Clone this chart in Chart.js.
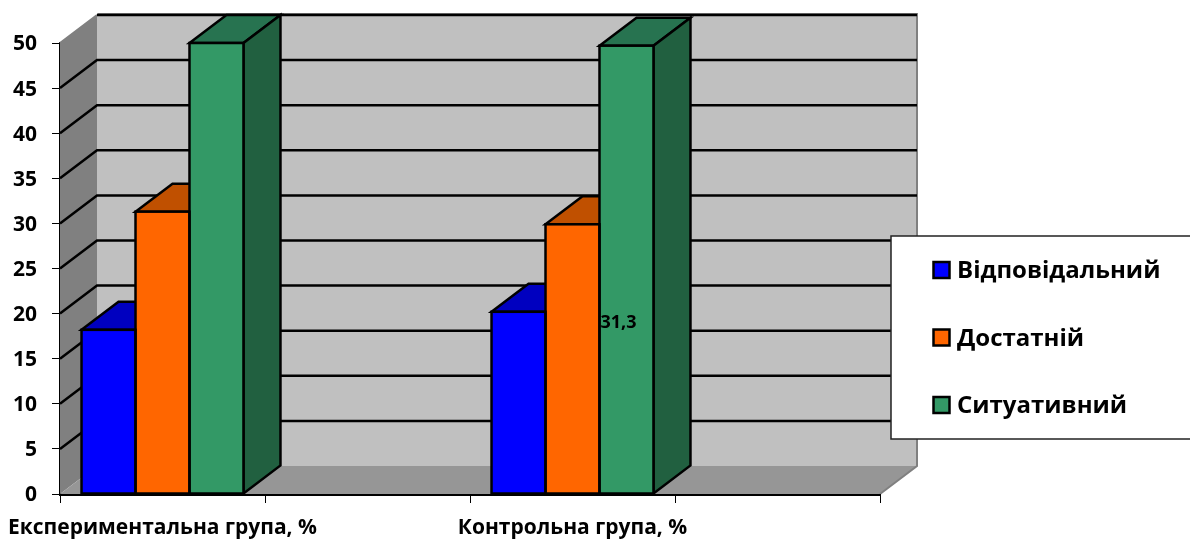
<!DOCTYPE html>
<html>
<head>
<meta charset="utf-8">
<title>Chart</title>
<script src="https://cdn.jsdelivr.net/npm/chart.js@4"></script>
<style>
html, body { margin: 0; padding: 0; background: #fff; }
canvas { display: block; }
</style>
</head>
<body>
<canvas id="chart" width="1190" height="539"></canvas>
<script>
// blank categories keep the empty half of the 3D floor, like the original
const categories = ['Експериментальна група, %', '', 'Контрольна група, %', ''];
const seriesNames = ['Відповідальний', 'Достатній', 'Ситуативний'];
const responsible = [18.2, null, 20.2, null];
const sufficient = [31.3, null, 29.9, null];
const situational = [50, null, 49.7, null];
const strayLabel = '31,3';

const frontColors = ['#0000ff', '#ff6600', '#339966'];
const topColors = ['#0000c0', '#c05000', '#277350'];
const sideColors = ['#000099', '#994000', '#216040'];

const FONT = '"Open Sans", sans-serif';
const DX = 37, DY = 28;
const LINE = 2.5;

function poly(ctx, pts, fill, stroke, lw) {
    ctx.beginPath();
    pts.forEach((p, i) => i ? ctx.lineTo(p[0], p[1]) : ctx.moveTo(p[0], p[1]));
    ctx.closePath();
    if (fill) { ctx.fillStyle = fill; ctx.fill(); }
    if (stroke) { ctx.strokeStyle = stroke; ctx.lineWidth = lw; ctx.stroke(); }
}

const box3d = {
    id: 'box3d',
    beforeDatasetsDraw(chart) {
        const ctx = chart.ctx, y = chart.scales.y, a = chart.chartArea;
        const top = y.getPixelForValue(50), bot = y.getPixelForValue(0);
        ctx.save();
        // walls and floor
        poly(ctx, [[a.left, top], [a.left + DX, top - DY], [a.left + DX, bot - DY], [a.left, bot]], '#808080');
        poly(ctx, [[a.left + DX, top - DY], [a.right + DX, top - DY], [a.right + DX, bot - DY], [a.left + DX, bot - DY]], '#c0c0c0');
        poly(ctx, [[a.left, bot], [a.right, bot], [a.right + DX, bot - DY], [a.left + DX, bot - DY]], '#969696');
        ctx.strokeStyle = '#808080';
        ctx.lineWidth = 2;
        ctx.beginPath();
        ctx.moveTo(a.left + DX + 0.5, top - DY - 1);
        ctx.lineTo(a.right + DX, top - DY - 1);
        ctx.lineTo(a.right + DX, bot - DY);
        ctx.lineTo(a.right, bot);
        ctx.moveTo(a.left, top);
        ctx.lineTo(a.left + DX, top - DY);
        ctx.stroke();
        // gridlines run along the left wall and the back wall
        ctx.strokeStyle = '#000';
        ctx.lineWidth = LINE;
        y.ticks.forEach(t => {
            if (t.value === 0) return;
            const py = y.getPixelForValue(t.value);
            ctx.beginPath();
            if (t.value !== 50) {
                ctx.moveTo(a.left, py);
            } else {
                ctx.moveTo(a.left + DX, py - DY);
            }
            ctx.lineTo(a.left + DX, py - DY);
            ctx.lineTo(a.right + DX, py - DY);
            ctx.stroke();
        });
        // top and side faces, the library draws the front ones over them
        chart.data.datasets.forEach((ds, i) => {
            chart.getDatasetMeta(i).data.forEach((bar, j) => {
                if (ds.data[j] === null) return;
                const l = bar.x - bar.width / 2, r = bar.x + bar.width / 2;
                poly(ctx, [[l, bar.y], [r, bar.y], [r + DX, bar.y - DY], [l + DX, bar.y - DY]], topColors[i], '#000', LINE);
                poly(ctx, [[r, bar.y], [r + DX, bar.y - DY], [r + DX, bar.base - DY], [r, bar.base]], sideColors[i], '#000', LINE);
            });
        });
        ctx.restore();
    },
    afterDatasetsDraw(chart) {
        // outlines of the front faces, neighbours share one line
        const ctx = chart.ctx;
        ctx.save();
        ctx.strokeStyle = '#000';
        ctx.lineWidth = LINE;
        chart.data.datasets.forEach((ds, i) => {
            chart.getDatasetMeta(i).data.forEach((bar, j) => {
                if (ds.data[j] === null) return;
                ctx.strokeRect(bar.x - bar.width / 2, bar.y, bar.width, bar.base - bar.y);
            });
        });
        ctx.restore();
    },
    afterDraw(chart) {
        const ctx = chart.ctx, x = chart.scales.x, y = chart.scales.y;
        ctx.save();
        // x ticks: the scale's own are transparent, its long tickLength only pushes the labels down
        ctx.strokeStyle = '#000';
        ctx.lineWidth = 1;
        categories.concat('').forEach((c, i) => {
            const px = Math.round(x.getPixelForValue(i - 0.5)) + 0.5;
            ctx.beginPath();
            ctx.moveTo(px, y.bottom);
            ctx.lineTo(px, y.bottom + 9);
            ctx.stroke();
        });
        // stray data label sitting on the green bar of the second group
        const bar = chart.getDatasetMeta(2).data[2];
        ctx.fillStyle = '#000';
        ctx.font = 'bold 18px ' + FONT;
        ctx.textAlign = 'left';
        ctx.textBaseline = 'middle';
        ctx.fillText(strayLabel, bar.x - bar.width / 2 + 1, y.getPixelForValue(19));
        // legend
        ctx.fillStyle = '#fff';
        ctx.strokeStyle = '#222';
        ctx.lineWidth = 1.5;
        ctx.fillRect(891, 236, 301, 203);
        ctx.strokeRect(891, 236, 301, 203);
        ctx.font = 'bold 24px ' + FONT;
        seriesNames.forEach((name, i) => {
            const cy = 270 + i * 67.5;
            ctx.fillStyle = frontColors[i];
            ctx.fillRect(933.5, cy - 8, 16, 16);
            ctx.strokeStyle = '#000';
            ctx.lineWidth = 2.5;
            ctx.strokeRect(933.5, cy - 8, 16, 16);
            ctx.fillStyle = '#000';
            ctx.fillText(name, 957, cy + 1.5);
        });
        ctx.restore();
    }
};

const series = [responsible, sufficient, situational];

new Chart(document.getElementById('chart'), {
    type: 'bar',
    data: {
        labels: categories,
        datasets: seriesNames.map((name, i) => ({
            label: name,
            data: series[i],
            backgroundColor: frontColors[i],
            borderWidth: 0,
            categoryPercentage: 0.79,
            barPercentage: 1,
            clip: false
        }))
    },
    options: {
        responsive: false,
        animation: false,
        layout: { padding: { left: 0, right: 310, top: 43, bottom: 0 } },
        plugins: { legend: { display: false }, tooltip: { enabled: false } },
        scales: {
            x: {
                afterFit(scale) { scale.height = 45; },
                grid: { drawOnChartArea: false, tickColor: 'transparent', tickLength: 21, lineWidth: 1 },
                border: { color: '#000', width: 3 },
                ticks: {
                    color: '#000',
                    autoSkip: false,
                    maxRotation: 0,
                    padding: 0,
                    font: { family: FONT, size: 21, weight: 'bold' }
                }
            },
            y: {
                min: 0,
                max: 50,
                afterFit(scale) { scale.width = 60; },
                grid: { drawOnChartArea: false, color: '#000', tickLength: 8, lineWidth: 1 },
                border: { color: '#000', width: 2 },
                ticks: {
                    stepSize: 5,
                    color: '#000',
                    padding: 15,
                    labelOffset: 1.5,
                    font: { family: FONT, size: 21, weight: 'bold' }
                }
            }
        }
    },
    plugins: [box3d]
});
</script>
</body>
</html>
